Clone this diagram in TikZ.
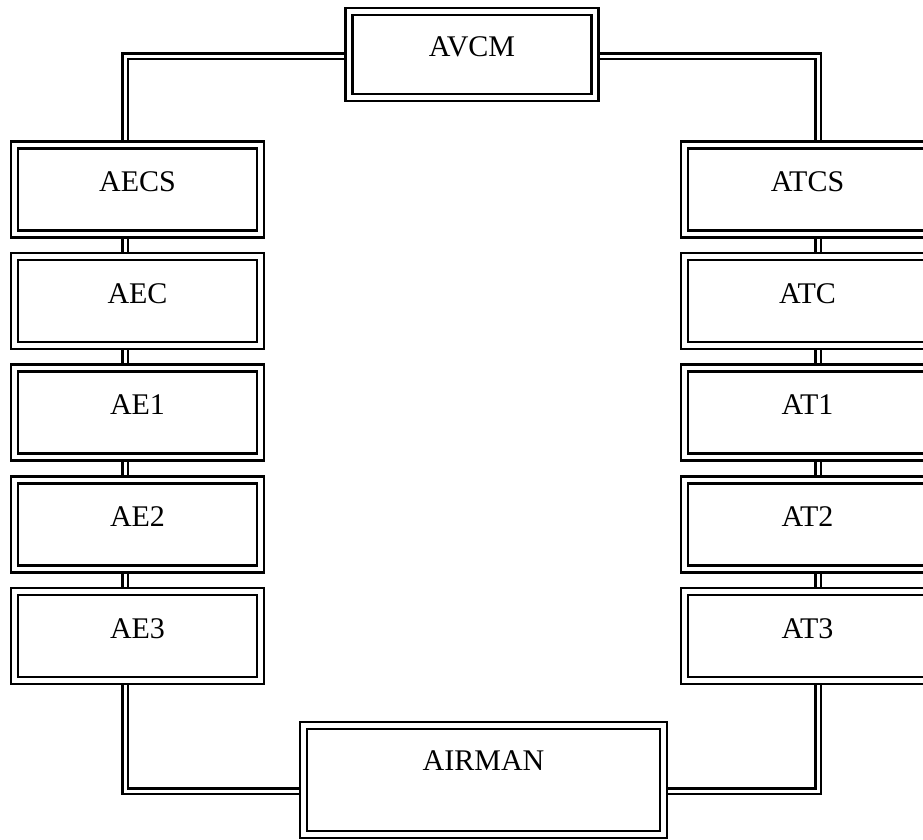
\documentclass[tikz,border=0pt]{standalone}
\usepackage{fontspec}
\setmainfont{Liberation Serif}
\usetikzlibrary{backgrounds}
\begin{document}
\begin{tikzpicture}[x=1pt,y=-1pt,
  box/.style={draw, double, double distance=4.8pt, line width=2.5pt, fill=white,
    inner sep=0pt, outer sep=0pt, minimum width=246pt, minimum height=89pt,
    text height=12pt, text depth=8pt, font=\fontsize{30}{36}\selectfont},
  conn/.style={draw, double, double distance=3pt, line width=2.5pt, line join=miter}]
\useasboundingbox (0,0) rectangle (923,839);
\node[box, minimum height=86pt] (AVCM) at (472,54.5) {AVCM};
\node[box] (AECS) at (137.5,189.5) {AECS};
\node[box] (AEC) at (137.5,301) {AEC};
\node[box] (AE1) at (137.5,412.5) {AE1};
\node[box] (AE2) at (137.5,524.5) {AE2};
\node[box] (AE3) at (137.5,636) {AE3};
\node[box] (ATCS) at (807.5,189.5) {ATCS};
\node[box] (ATC) at (807.5,301) {ATC};
\node[box] (AT1) at (807.5,412.5) {AT1};
\node[box] (AT2) at (807.5,524.5) {AT2};
\node[box] (AT3) at (807.5,636) {AT3};
\node[box, minimum width=360pt, minimum height=109pt, text height=10pt, text depth=29pt] (AIRMAN) at (483.5,780) {AIRMAN};
\coordinate (tl) at (125,56);
\coordinate (tr) at (818,56);
\coordinate (bl) at (125,791);
\coordinate (br) at (818,791);
\begin{scope}[on background layer]
\draw[conn] (tl -| AVCM.west) -- (tl) -- (tl |- AECS.north);
\draw[conn] (tr -| AVCM.east) -- (tr) -- (tr |- ATCS.north);
\draw[conn] (AECS.south -| tl) -- (AEC.north -| tl);
\draw[conn] (AEC.south -| tl) -- (AE1.north -| tl);
\draw[conn] (AE1.south -| tl) -- (AE2.north -| tl);
\draw[conn] (AE2.south -| tl) -- (AE3.north -| tl);
\draw[conn] (ATCS.south -| tr) -- (ATC.north -| tr);
\draw[conn] (ATC.south -| tr) -- (AT1.north -| tr);
\draw[conn] (AT1.south -| tr) -- (AT2.north -| tr);
\draw[conn] (AT2.south -| tr) -- (AT3.north -| tr);
\draw[conn] (AE3.south -| bl) -- (bl) -- (bl -| AIRMAN.west);
\draw[conn] (AT3.south -| br) -- (br) -- (br -| AIRMAN.east);
\end{scope}
\end{tikzpicture}
\end{document}
